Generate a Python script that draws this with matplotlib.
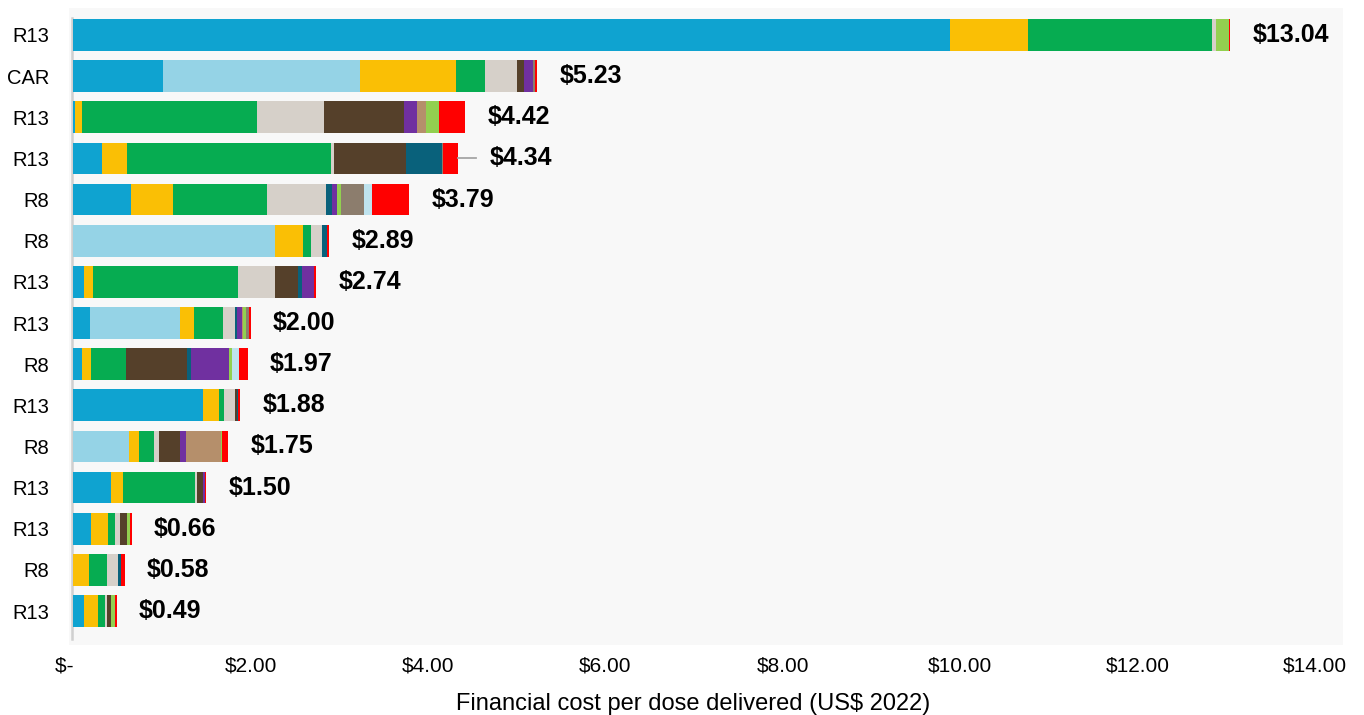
import numpy as np
import matplotlib
matplotlib.use("Agg")
import matplotlib.pyplot as plt

plt.rcParams['font.family'] = ['Liberation Sans', 'DejaVu Sans']

# rows, top to bottom
sites = ["R13", "CAR", "R13", "R13", "R8", "R8", "R13", "R13", "R8", "R13", "R8", "R13", "R13", "R8", "R13"]
totals = [13.04, 5.23, 4.42, 4.34, 3.79, 2.89, 2.74, 2.00, 1.97, 1.88, 1.75, 1.50, 0.66, 0.58, 0.49]

# cost components (US$ per dose), one list per component, same row order
blue = [9.89, 1.012, 0.019, 0.32, 0.651, 0, 0.124, 0.188, 0.098, 1.461, 0, 0.421, 0.195, 0, 0.125]
light_blue = [0, 2.224, 0, 0, 0, 2.279, 0, 1.019, 0, 0, 0.624, 0, 0, 0, 0]
yellow = [0.876, 1.083, 0.079, 0.289, 0.47, 0.316, 0.094, 0.154, 0.105, 0.18, 0.117, 0.135, 0.196, 0.173, 0.154]
green = [2.076, 0.323, 1.97, 2.298, 1.06, 0.087, 1.64, 0.327, 0.391, 0.056, 0.169, 0.816, 0.075, 0.21, 0.075]
light_gray = [0.045, 0.365, 0.763, 0.03, 0.669, 0.124, 0.421, 0.135, 0, 0.124, 0.06, 0.026, 0.06, 0.117, 0.03]
brown = [0, 0.074, 0.902, 0.816, 0, 0, 0.256, 0, 0.687, 0.03, 0.237, 0.068, 0.075, 0, 0.045]
teal = [0, 0, 0, 0.41, 0.071, 0.056, 0.045, 0.026, 0.045, 0.01, 0, 0, 0, 0.034, 0]
purple = [0, 0.10, 0.14, 0, 0.05, 0, 0.135, 0.049, 0.432, 0, 0.06, 0.015, 0, 0, 0]
tan = [0, 0, 0.105, 0, 0, 0, 0, 0.015, 0, 0, 0.394, 0, 0, 0, 0]
light_green = [0.15, 0, 0.15, 0, 0.045, 0, 0, 0.034, 0.03, 0, 0.015, 0, 0.034, 0, 0.038]
taupe = [0, 0.03, 0, 0.01, 0.266, 0, 0, 0.038, 0, 0, 0, 0, 0, 0, 0]
pale_blue = [0, 0, 0, 0, 0.09, 0, 0, 0, 0.079, 0, 0, 0, 0, 0, 0]
red = [0.01, 0.019, 0.29, 0.166, 0.418, 0.023, 0.025, 0.015, 0.102, 0.019, 0.071, 0.019, 0.023, 0.045, 0.023]

components = [blue, light_blue, yellow, green, light_gray, brown, teal, purple,
              tan, light_green, taupe, pale_blue, red]
colors = ["#0FA3D0", "#95D3E6", "#FABF05", "#06AC51", "#D6D0C9", "#55402A", "#09617B",
          "#7030A0", "#B58F6B", "#92D050", "#8C7D6D", "#BFE3EE", "#FF0000"]

fig = plt.figure(figsize=(13.64, 7.15), dpi=100)
ax = fig.add_axes([69 / 1364, 70 / 715, 1274 / 1364, 637 / 715])
ax.set_facecolor("#F8F8F8")

y = np.arange(len(sites))
left = np.zeros(len(sites))
for vals, col in zip(components, colors):
    vals = np.array(vals)
    ax.barh(y, vals, left=left, height=0.77, color=col, linewidth=0)
    left += vals

# total labels at the end of each bar
for i, tot in enumerate(totals):
    end = left[i]
    if i == 3:
        # this label sits a bit further out with a leader line
        ax.plot([end, end + 0.2], [i, i], color="#A6A6A6", lw=1.3)
        ax.annotate(f"${tot:.2f}", (end, i), xytext=(23, 0), textcoords="offset points",
                    va="center", ha="left", fontsize=18, fontweight="bold")
    else:
        ax.annotate(f"${tot:.2f}", (end, i), xytext=(16, 0), textcoords="offset points",
                    va="center", ha="left", fontsize=18, fontweight="bold")

ax.axvline(-0.012, ymin=0.01, ymax=0.985, color="#D0D0D0", lw=1.8, zorder=0)

ax.set_xlim(-0.0485, 14.32)
ax.set_ylim(14.826, -0.656)
ax.set_yticks(y)
ax.set_yticklabels(sites, fontsize=14.5)
ticks = np.arange(0, 15, 2)
ax.set_xticks(ticks)
ax.set_xticklabels(["$-   "] + [f"${t:.2f}" for t in ticks[1:]], fontsize=15)
ax.tick_params(axis="y", length=0, pad=14)
ax.tick_params(axis="x", length=0, pad=8)
ax.set_xlabel("Financial cost per dose delivered (US$ 2022)", fontsize=17)
ax.xaxis.set_label_coords(0.49, -0.075)
for s in ax.spines.values():
    s.set_visible(False)

fig.savefig("out.png", dpi=100, facecolor="white")
